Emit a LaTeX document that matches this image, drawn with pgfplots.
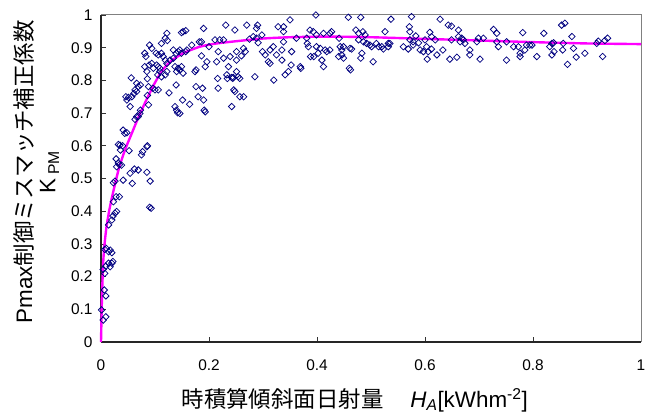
\documentclass[border=0pt]{standalone}
\usepackage{fontspec}
\setmainfont{Liberation Sans}
\newfontfamily\jp{Noto Sans CJK JP}
\usepackage{pgfplots}
\usepackage{pgfplotstable}
\pgfplotsset{compat=1.18}
\definecolor{mk}{RGB}{0,0,128}
\definecolor{mg}{RGB}{255,0,255}

\pgfplotstableread{
x y
0.001 0.098
0.004 0.067
0.009 0.077
0.006 0.159
0.009 0.141
0.004 0.222
0.007 0.210
0.009 0.232
0.014 0.241
0.017 0.230
0.020 0.241
0.022 0.246
0.007 0.283
0.010 0.286
0.014 0.276
0.017 0.281
0.020 0.273
0.014 0.358
0.020 0.373
0.022 0.385
0.026 0.394
0.029 0.399
0.023 0.429
0.028 0.444
0.034 0.444
0.023 0.487
0.026 0.492
0.029 0.536
0.034 0.542
0.038 0.541
0.028 0.560
0.032 0.548
0.036 0.587
0.035 0.602
0.032 0.604
0.040 0.600
0.052 0.585
0.041 0.495
0.054 0.516
0.058 0.485
0.062 0.529
0.069 0.526
0.041 0.648
0.044 0.638
0.048 0.640
0.063 0.681
0.066 0.689
0.069 0.689
0.072 0.699
0.073 0.709
0.054 0.720
0.048 0.740
0.046 0.750
0.051 0.748
0.057 0.750
0.061 0.760
0.066 0.766
0.063 0.771
0.069 0.781
0.073 0.786
0.066 0.791
0.056 0.808
0.075 0.572
0.077 0.582
0.085 0.597
0.086 0.600
0.085 0.519
0.091 0.492
0.090 0.412
0.093 0.409
0.086 0.754
0.088 0.781
0.086 0.805
0.085 0.827
0.081 0.842
0.089 0.847
0.094 0.852
0.083 0.873
0.081 0.883
0.090 0.908
0.094 0.898
0.088 0.725
0.096 0.776
0.100 0.771
0.097 0.837
0.103 0.847
0.106 0.842
0.109 0.837
0.105 0.817
0.109 0.827
0.112 0.811
0.119 0.817
0.122 0.827
0.106 0.771
0.126 0.762
0.102 0.883
0.106 0.878
0.112 0.883
0.115 0.873
0.119 0.862
0.122 0.852
0.128 0.862
0.134 0.868
0.112 0.913
0.119 0.929
0.122 0.944
0.123 0.922
0.134 0.893
0.139 0.883
0.143 0.888
0.146 0.893
0.149 0.883
0.137 0.842
0.140 0.827
0.143 0.837
0.146 0.832
0.149 0.842
0.152 0.822
0.139 0.786
0.149 0.946
0.152 0.949
0.157 0.952
0.137 0.720
0.140 0.709
0.142 0.701
0.146 0.699
0.151 0.740
0.164 0.727
0.159 0.893
0.157 0.888
0.168 0.908
0.174 0.827
0.176 0.832
0.176 0.781
0.180 0.750
0.182 0.918
0.186 0.918
0.188 0.776
0.190 0.740
0.191 0.709
0.193 0.704
0.190 0.959
0.193 0.842
0.196 0.857
0.200 0.903
0.186 0.875
0.211 0.924
0.214 0.857
0.216 0.806
0.217 0.888
0.217 0.776
0.220 0.924
0.227 0.924
0.227 0.868
0.231 0.969
0.233 0.817
0.234 0.806
0.236 0.842
0.239 0.873
0.242 0.809
0.244 0.806
0.246 0.771
0.248 0.766
0.245 0.809
0.251 0.888
0.251 0.862
0.251 0.827
0.254 0.811
0.257 0.806
0.257 0.750
0.264 0.750
0.242 0.720
0.248 0.954
0.260 0.875
0.264 0.898
0.267 0.888
0.270 0.969
0.275 0.926
0.282 0.934
0.285 0.811
0.288 0.929
0.288 0.959
0.290 0.969
0.291 0.915
0.298 0.939
0.299 0.888
0.304 0.878
0.310 0.857
0.313 0.852
0.313 0.893
0.319 0.903
0.320 0.801
0.325 0.878
0.328 0.964
0.335 0.893
0.335 0.862
0.338 0.964
0.338 0.949
0.338 0.918
0.341 0.817
0.347 0.827
0.350 0.985
0.352 0.847
0.353 0.888
0.362 0.929
0.369 0.842
0.370 0.837
0.381 0.929
0.382 0.913
0.384 0.903
0.387 0.954
0.388 0.873
0.393 0.949
0.394 0.873
0.398 1.000
0.399 0.903
0.399 0.939
0.402 0.883
0.406 0.898
0.409 0.862
0.412 0.842
0.412 0.944
0.415 0.893
0.418 0.888
0.424 0.944
0.427 0.949
0.424 0.893
0.441 0.929
0.443 0.903
0.440 0.873
0.446 0.893
0.449 0.903
0.446 0.878
0.449 0.868
0.458 0.993
0.461 0.898
0.460 0.837
0.462 0.832
0.464 0.896
0.472 0.954
0.477 0.944
0.481 0.993
0.485 0.949
0.489 0.939
0.483 0.883
0.481 0.868
0.477 0.924
0.486 0.918
0.492 0.913
0.498 0.908
0.504 0.857
0.501 0.903
0.510 0.913
0.514 0.903
0.520 0.903
0.523 0.896
0.526 0.949
0.532 0.913
0.532 0.903
0.535 0.913
0.537 0.987
0.560 0.903
0.569 0.896
0.571 0.964
0.572 0.949
0.575 0.995
0.572 0.924
0.578 0.918
0.578 0.908
0.583 0.936
0.588 0.915
0.591 0.893
0.597 0.888
0.600 0.924
0.603 0.903
0.606 0.888
0.604 0.865
0.609 0.947
0.612 0.934
0.612 0.896
0.619 0.924
0.622 0.878
0.628 0.987
0.633 0.893
0.643 0.969
0.649 0.966
0.646 0.865
0.649 0.924
0.659 0.871
0.662 0.954
0.662 0.934
0.665 0.918
0.668 0.929
0.671 0.924
0.674 0.913
0.683 0.893
0.683 0.878
0.696 0.918
0.699 0.929
0.702 0.865
0.708 0.929
0.727 0.956
0.733 0.944
0.733 0.918
0.736 0.903
0.751 0.918
0.751 0.862
0.764 0.903
0.773 0.903
0.776 0.883
0.776 0.873
0.781 0.946
0.785 0.893
0.788 0.908
0.794 0.908
0.798 0.908
0.807 0.873
0.820 0.944
0.831 0.903
0.835 0.913
0.838 0.915
0.835 0.878
0.839 0.888
0.853 0.969
0.859 0.975
0.855 0.893
0.856 0.913
0.864 0.849
0.872 0.934
0.875 0.898
0.880 0.871
0.896 0.883
0.918 0.913
0.921 0.920
0.929 0.873
0.933 0.922
0.938 0.929
}\scatterdata

\pgfplotstableread{
x y
0 0
0.001 0.08
0.002 0.15
0.004 0.24
0.006 0.29
0.010 0.35
0.015 0.40
0.020 0.44
0.027 0.49
0.034 0.536
0.045 0.59
0.057 0.638
0.070 0.69
0.084 0.74
0.098 0.787
0.112 0.827
0.128 0.857
0.152 0.883
0.183 0.903
0.210 0.912
0.240 0.918
0.300 0.928
0.350 0.932
0.420 0.934
0.500 0.932
0.600 0.927
0.700 0.922
0.800 0.917
0.900 0.913
1.000 0.911
}\curvedata

\begin{document}
\begin{tikzpicture}
\path[use as bounding box] (-101bp,-77bp) rectangle (545bp,342bp);
\begin{axis}[
  scale only axis, width=540bp, height=327bp,
  xmin=0, xmax=1, ymin=0, ymax=1,
  axis lines=left,
  axis line style={-, line width=1.1pt, black!85},
  xtick={0,0.2,0.4,0.6,0.8,1},
  ytick={0,0.1,0.2,0.3,0.4,0.5,0.6,0.7,0.8,0.9,1},
  tick align=inside,
  major tick length=5bp,
  tick style={line width=0.8pt, black!80},
  /pgf/number format/assume math mode=true,
  ticklabel style={font=\fontsize{15.5}{18}\selectfont},
  yticklabel style={xshift=-5bp},
  xticklabel style={yshift=-14bp},
  xlabel={{\jp 時積算傾斜面日射量}\hspace{1.2em}\textit{H}\textsubscript{\textit{A}}[kWhm\textsuperscript{-2}]},
  ylabel={Pmax{\jp 制御ミスマッチ補正係数}\\K\,\textsubscript{PM}},
  xlabel style={at={(axis description cs:0.47,-0.177)}, anchor=center, font=\fontsize{22.5}{24}\selectfont},
  ylabel style={at={(axis description cs:-0.12,0.52)}, anchor=center, align=center, font=\fontsize{22.5}{23.5}\selectfont},
  clip=false,
]
\draw[black!50, line width=1pt] (rel axis cs:0,1) -- (rel axis cs:1,1) -- (rel axis cs:1,0);
\addplot[only marks, mark=square, mark size=2.3pt, mark options={rotate=45, draw=mk, line width=0.75pt, fill=white}] table[x=x,y=y] {\scatterdata};
\addplot[mg, line width=2.4pt, smooth, tension=0.4] table[x=x,y=y] {\curvedata};
\end{axis}
\end{tikzpicture}
\end{document}
